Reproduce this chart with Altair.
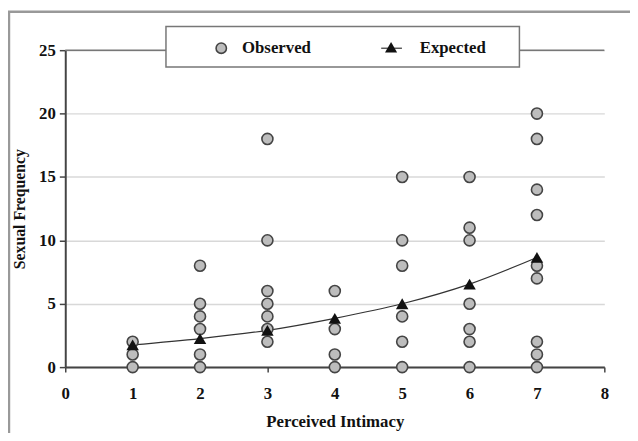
import altair as alt
import pandas as pd

# Observed data: perceived intimacy (x) vs sexual frequency (y)
obs_x = [1, 1, 1,
         2, 2, 2, 2, 2, 2,
         3, 3, 3, 3, 3, 3, 3,
         4, 4, 4, 4,
         5, 5, 5, 5, 5, 5,
         6, 6, 6, 6, 6, 6, 6,
         7, 7, 7, 7, 7, 7, 7, 7, 7]
obs_y = [0, 1, 2,
         0, 1, 3, 4, 5, 8,
         2, 3, 4, 5, 6, 10, 18,
         0, 1, 3, 6,
         0, 2, 4, 8, 10, 15,
         0, 2, 3, 5, 10, 11, 15,
         0, 1, 2, 7, 8, 12, 14, 18, 20]

exp_x = [1, 2, 3, 4, 5, 6, 7]
exp_y = [1.75, 2.25, 2.9, 3.85, 5.0, 6.55, 8.65]

x_ticks = [0, 1, 2, 3, 4, 5, 6, 7, 8]
y_ticks = [0, 5, 10, 15, 20, 25]
legend_labels = ["Observed", "Expected"]

W, H = 546, 321
FONT = "Liberation Serif"

obs = pd.DataFrame({"x": obs_x, "y": obs_y})
exp = pd.DataFrame({"x": exp_x, "y": exp_y})

xs = alt.Scale(domain=[0, 8], nice=False)
ys = alt.Scale(domain=[0, 25], nice=False)

# outer border of the whole figure
border = alt.Chart(pd.DataFrame({"a": [0]})).mark_rect(
    fillOpacity=0, stroke="#999999", strokeWidth=2.5
).encode(x=alt.value(-57), x2=alt.value(600), y=alt.value(-39), y2=alt.value(420))

base_axes = alt.Chart(obs).mark_point(opacity=0).encode(
    x=alt.X("x:Q", scale=xs,
            axis=alt.Axis(values=x_ticks, format="d", title="Perceived Intimacy", grid=False,
                          labelFlush=False,
                          domainColor="#444444", domainWidth=2, tickColor="#444444",
                          tickWidth=1.5, tickSize=5, labelPadding=14,
                          labelFont=FONT, labelFontSize=17, labelFontWeight="bold",
                          labelColor="#111111", titleFont=FONT, titleFontSize=17,
                          titleFontWeight="bold", titleColor="#111111", titlePadding=12)),
    y=alt.Y("y:Q", scale=ys,
            axis=alt.Axis(values=y_ticks, format="d", title="Sexual Frequency", grid=True,
                          labelFlush=False,
                          gridColor="#d8d8d8", gridWidth=1.5,
                          domainColor="#444444", domainWidth=2, tickColor="#444444",
                          tickWidth=1.5, tickSize=6, labelPadding=4,
                          labelFont=FONT, labelFontSize=17, labelFontWeight="bold",
                          labelColor="#111111", titleFont=FONT, titleFontSize=16,
                          titleFontWeight="bold", titleColor="#111111", titlePadding=11)),
)

top_line = alt.Chart(pd.DataFrame({"y": [25]})).mark_rule(
    color="#777777", strokeWidth=1.5
).encode(y=alt.Y("y:Q", scale=ys))

line = alt.Chart(exp).mark_line(
    color="#333333", strokeWidth=1.2, interpolate="monotone"
).encode(x=alt.X("x:Q", scale=xs), y=alt.Y("y:Q", scale=ys))

points = alt.Chart(obs).mark_point(
    shape="circle", filled=True, fill="#bdbdbd", stroke="#444444",
    strokeWidth=1.6, size=125, opacity=1
).encode(x=alt.X("x:Q", scale=xs), y=alt.Y("y:Q", scale=ys))

tri = alt.Chart(exp).mark_point(
    shape="triangle-up", filled=True, color="#111111", size=160, opacity=1
).encode(x=alt.X("x:Q", scale=xs), y=alt.Y("y:Q", scale=ys))

# legend box
leg_box = alt.Chart(pd.DataFrame({"a": [0]})).mark_rect(
    fill="white", stroke="#777777", strokeWidth=1.5
).encode(x=alt.value(102), x2=alt.value(460), y=alt.value(-24), y2=alt.value(17))

leg_circle = alt.Chart(pd.DataFrame({"a": [0]})).mark_point(
    shape="circle", filled=True, fill="#bdbdbd", stroke="#444444",
    strokeWidth=1.6, size=110, opacity=1
).encode(x=alt.value(158), y=alt.value(-2))

leg_line = alt.Chart(pd.DataFrame({"a": [0]})).mark_rule(
    color="#333333", strokeWidth=1.2
).encode(x=alt.value(320), x2=alt.value(341), y=alt.value(-2))

leg_tri = alt.Chart(pd.DataFrame({"a": [0]})).mark_point(
    shape="triangle-up", filled=True, color="#111111", size=150, opacity=1
).encode(x=alt.value(330), y=alt.value(-3))

leg_text = alt.Chart(pd.DataFrame({"t": legend_labels, "px": [179, 359]})).mark_text(
    font=FONT, fontSize=17, fontWeight="bold", color="#111111", align="left", baseline="middle"
).encode(x=alt.X("px:Q", scale=None), y=alt.value(-2), text="t:N")

chart = alt.layer(
    border, base_axes, top_line, line, points, tri,
    leg_box, leg_circle, leg_line, leg_tri, leg_text
).properties(
    width=W, height=H,
    autosize=alt.AutoSizeParams(type="none"),
    padding={"left": 58, "top": 40, "right": 26, "bottom": 64},
    background="white",
).configure_view(stroke=None)

chart.save("out.html", embed_options={"renderer": "svg", "actions": False})
